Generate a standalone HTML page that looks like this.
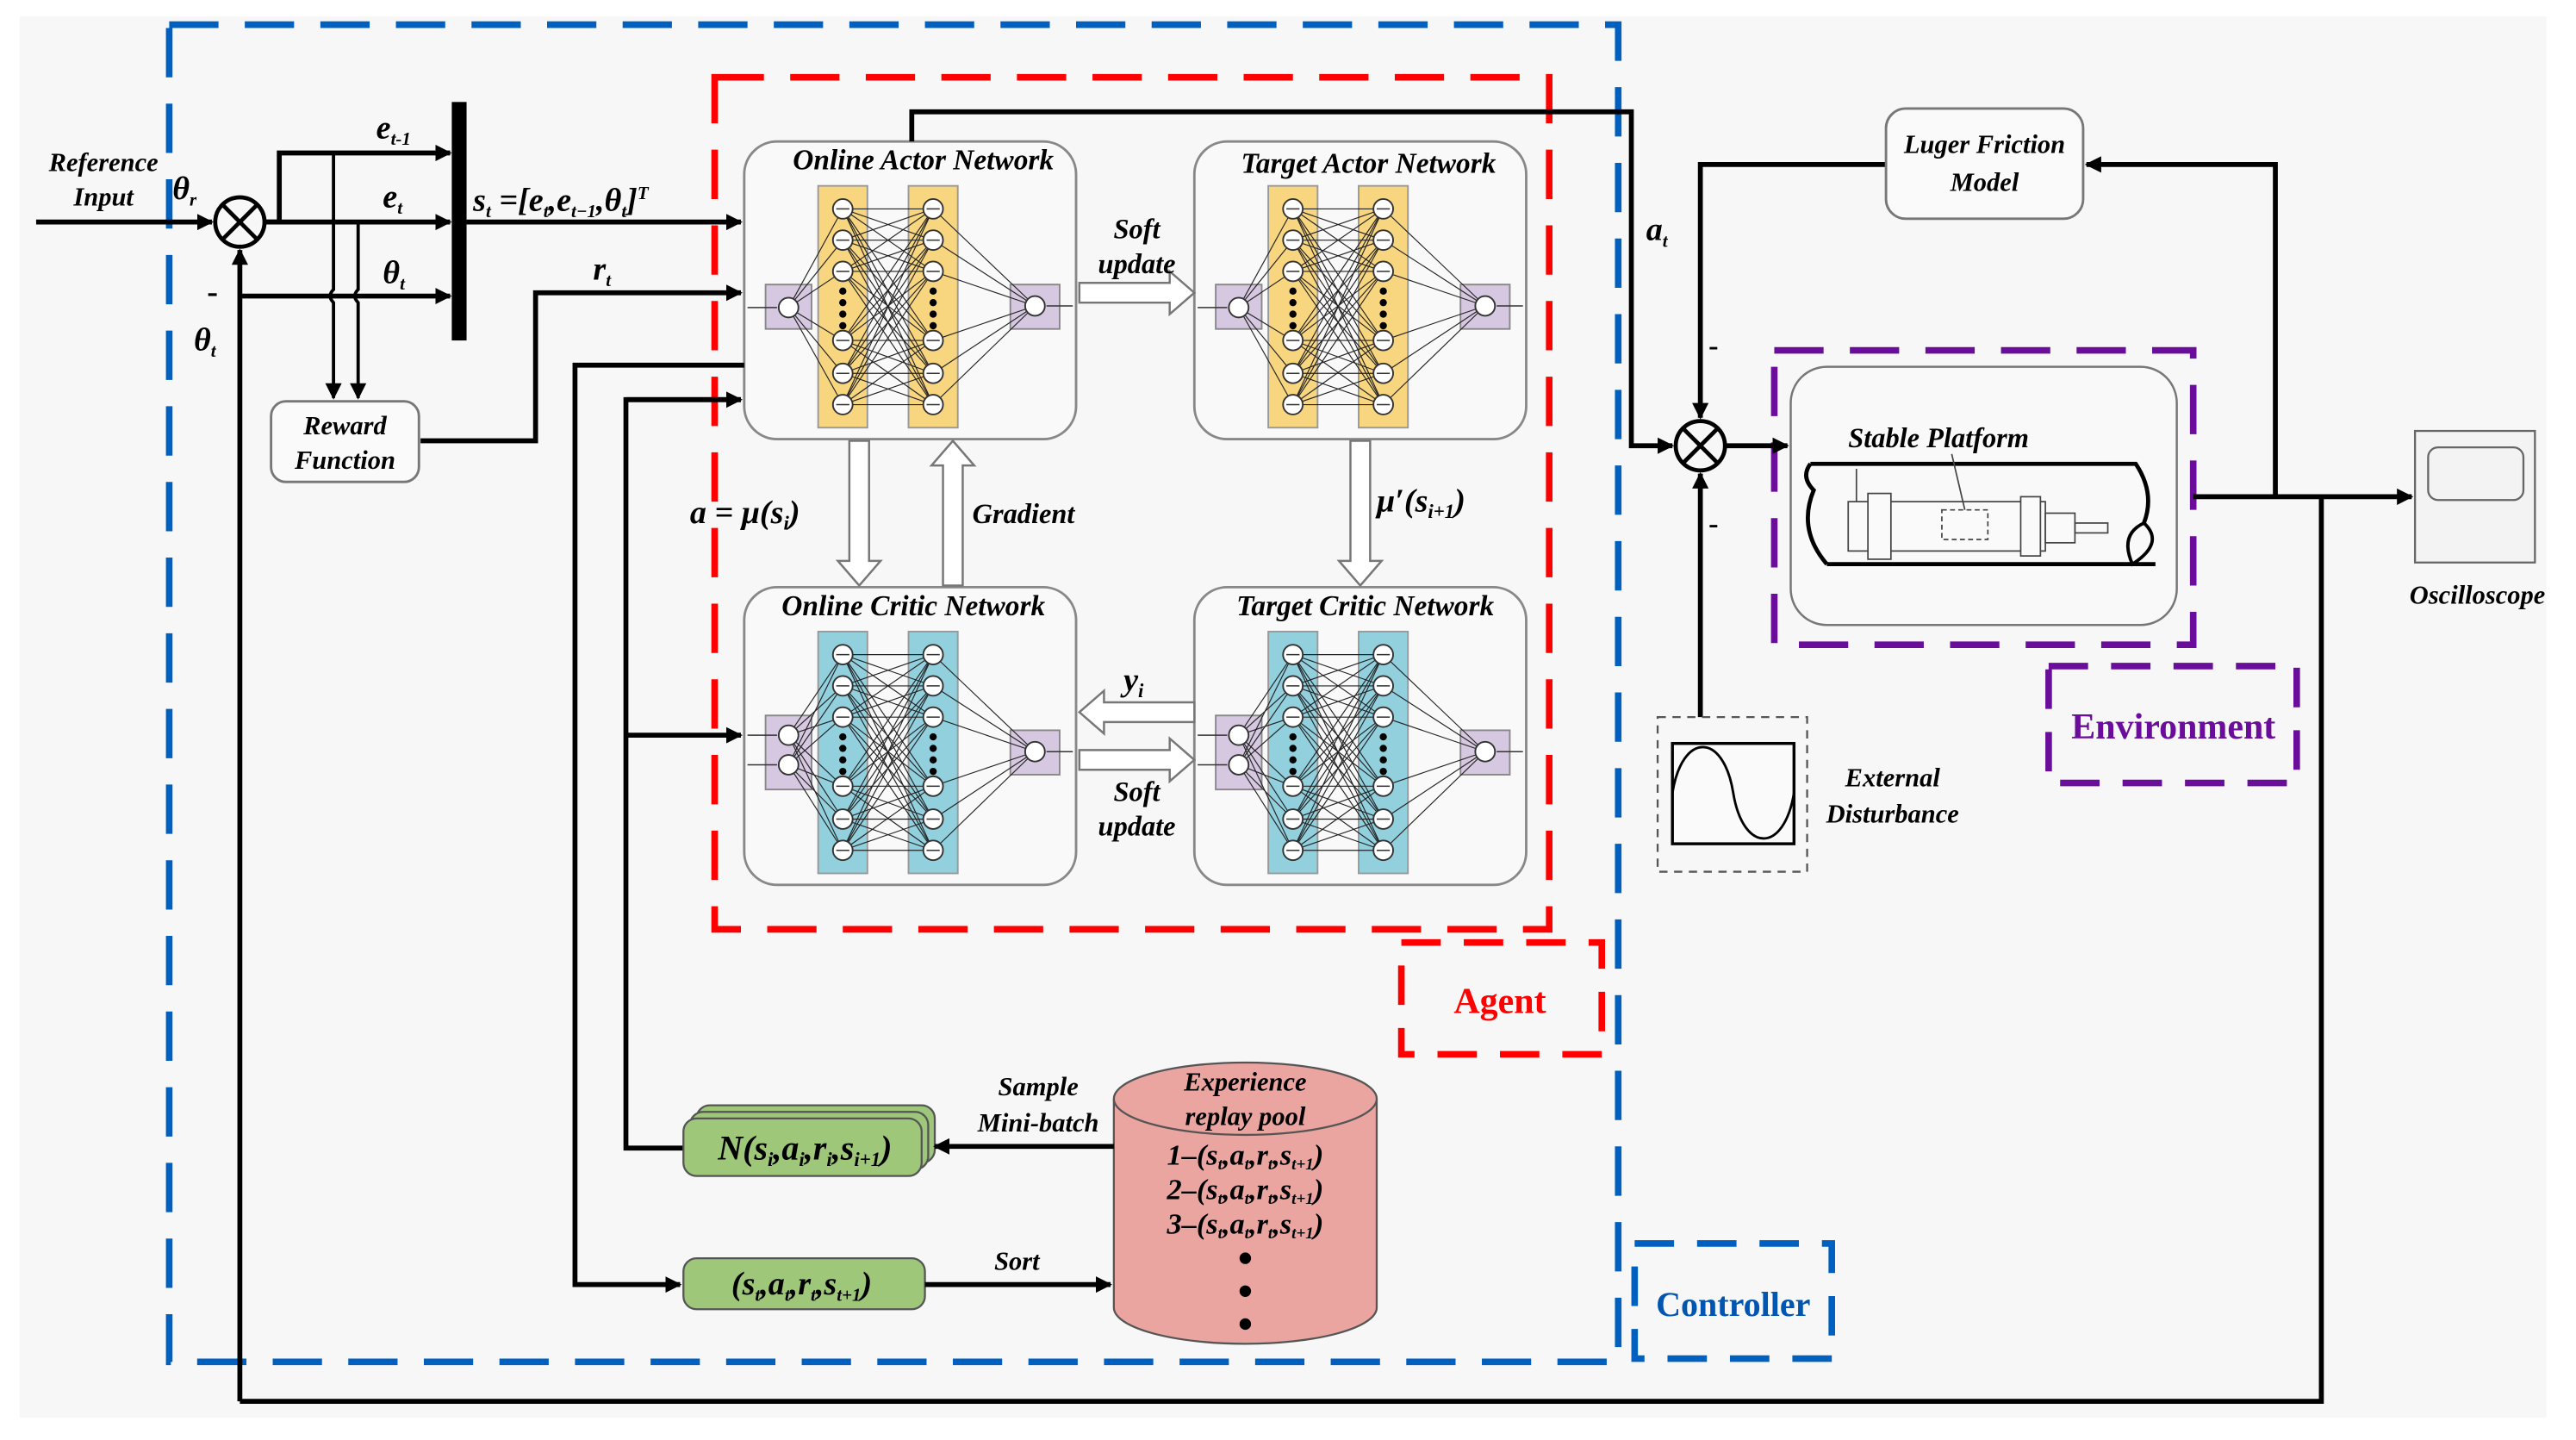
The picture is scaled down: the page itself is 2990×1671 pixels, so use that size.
<!DOCTYPE html>
<html><head><meta charset="utf-8"><style>
html,body{margin:0;padding:0;background:#fff}
svg{display:block}
text{font-family:"Liberation Serif",serif;font-weight:bold;font-style:italic;fill:#000}
.u{font-style:normal}
</style></head><body>
<svg id="s" width="2990" height="1671" viewBox="0 0 1568 875.5" preserveAspectRatio="none" xmlns="http://www.w3.org/2000/svg">
<defs>
<marker id="ar" markerWidth="10" markerHeight="10" refX="9" refY="5" orient="auto" markerUnits="userSpaceOnUse"><path d="M0,0 L10,5 L0,10 z" fill="#000"/></marker>
</defs>
<rect x="0" y="0" width="1570" height="880" fill="#fff"/>
<rect x="12" y="10" width="1538" height="852" fill="#f7f7f7"/>

<!-- dashed group boxes -->
<g fill="none" stroke-width="4" stroke-dasharray="30,16">
<rect x="103" y="15" width="882" height="813" stroke="#0060c0"/>
<rect x="435" y="47" width="508" height="518" stroke="#ff0000"/>
<rect x="853" y="573" width="122" height="68" stroke="#ff0000" stroke-dasharray="24,14"/>
<rect x="995" y="756" width="120" height="70" stroke="#0060c0" stroke-dasharray="24,14"/>
<rect x="1080" y="213" width="255" height="179" stroke="#6a0d9a"/>
<rect x="1247" y="405" width="151" height="71" stroke="#6a0d9a" stroke-dasharray="24,14"/>
</g>
<text x="913" y="616" text-anchor="middle" class="u" style="font-size:22px;fill:#ff0000;font-style:normal">Agent</text>
<text x="1055" y="800" text-anchor="middle" style="font-size:21px;fill:#0055b0;font-style:normal">Controller</text>
<text x="1323" y="449" text-anchor="middle" style="font-size:22px;fill:#6a0d9a;font-style:normal">Environment</text>

<!-- network boxes -->
<g fill="#f9f9f9" stroke="#888" stroke-width="1.5">
<rect x="453" y="86" width="202" height="181" rx="20"/>
<rect x="727" y="86" width="202" height="181" rx="20"/>
<rect x="453" y="357" width="202" height="181" rx="20"/>
<rect x="727" y="357" width="202" height="181" rx="20"/>
</g>
<g style="font-size:17.5px" text-anchor="middle">
<text x="562" y="103">Online Actor Network</text>
<text x="833" y="105">Target  Actor Network</text>
<text x="556" y="374">Online Critic Network</text>
<text x="831" y="374">Target Critic Network</text>
</g>
<g id="nets"></g>

<!-- hollow arrows -->
<g fill="#fff" stroke="#777" stroke-width="1.3">
<path d="M657,172 L712,172 L712,165 L727,178 L712,191 L712,184 L657,184 z"/>
<path d="M727,427 L672,427 L672,420 L657,433 L672,446 L672,439 L727,439 z"/>
<path d="M657,456 L712,456 L712,449 L727,462 L712,475 L712,468 L657,468 z"/>
<path d="M517,268 L517,341 L510,341 L523,356 L536,341 L529,341 L529,268 z"/>
<path d="M574,356 L574,283 L567,283 L580,268 L593,283 L586,283 L586,356 z"/>
<path d="M822,268 L822,341 L815,341 L828,356 L841,341 L834,341 L834,268 z"/>
</g>
<g style="font-size:17px" text-anchor="middle">
<text x="692" y="145">Soft</text><text x="692" y="166">update</text>
<text x="692" y="487">Soft</text><text x="692" y="508">update</text>
<text x="690" y="420" style="font-size:20px">y<tspan dy="4" style="font-size:12px">i</tspan></text>
<text x="623" y="318">Gradient</text>
</g>
<text x="420" y="318" style="font-size:20px">a = μ(s<tspan dy="4" style="font-size:12px">i</tspan><tspan dy="-4">)</tspan></text>
<text x="838" y="311" style="font-size:20px">μ′(s<tspan dy="4" style="font-size:12px">i+1</tspan><tspan dy="-4">)</tspan></text>

<!-- left side -->
<g fill="none" stroke="#000" stroke-width="3">
<line x1="22" y1="135" x2="129" y2="135" marker-end="url(#ar)"/>
<circle cx="146" cy="135" r="15" stroke-width="2.5"/>
<line x1="136" y1="125" x2="156" y2="145" stroke-width="2.5"/>
<line x1="156" y1="125" x2="136" y2="145" stroke-width="2.5"/>
<polyline points="161,135 170,135 170,93 274,93" marker-end="url(#ar)"/>
<line x1="161" y1="135" x2="274" y2="135" marker-end="url(#ar)"/>
<line x1="146" y1="180" x2="274" y2="180" marker-end="url(#ar)"/>
<line x1="284" y1="135" x2="451" y2="135" marker-end="url(#ar)"/>
<polyline points="256,268 326,268 326,178 451,178" marker-end="url(#ar)"/>
<polyline points="453,222 350,222 350,781 414,781" marker-end="url(#ar)"/>
<polyline points="451,243 381,243 381,698 416,698"/>
<line x1="381" y1="243" x2="451" y2="243" marker-end="url(#ar)"/>
<line x1="381" y1="447" x2="451" y2="447" marker-end="url(#ar)"/>
<path d="M203,93 L203,176 Q199,180 203,184 L203,242" stroke-width="2" marker-end="url(#ar)"/>
<path d="M218,135 L218,176 Q214,180 218,184 L218,242" stroke-width="2" marker-end="url(#ar)"/>
<polyline points="146,852 1413,852 1413,302"/>
<line x1="146" y1="852" x2="146" y2="152" marker-end="url(#ar)"/>
<polyline points="555,86 555,68 993,68 993,271 1018,271" marker-end="url(#ar)"/>
</g>
<rect x="275" y="62" width="9" height="145" fill="#000"/>
<rect x="165" y="244" width="90" height="49" rx="9" fill="#fafafa" stroke="#777" stroke-width="1.5"/>
<g style="font-size:16px" text-anchor="middle">
<text x="210" y="264">Reward</text><text x="210" y="285">Function</text>
<text x="63" y="104">Reference</text><text x="63" y="125">Input</text>
</g>
<g style="font-size:20px">
<text x="105" y="121">θ<tspan dy="4" style="font-size:11px">r</tspan></text>
<text x="126" y="184" class="u">-</text>
<text x="118" y="213">θ<tspan dy="4" style="font-size:11px">t</tspan></text>
<text x="229" y="84">e<tspan dy="4" style="font-size:11px">t-1</tspan></text>
<text x="233" y="126">e<tspan dy="4" style="font-size:11px">t</tspan></text>
<text x="233" y="172">θ<tspan dy="4" style="font-size:11px">t</tspan></text>
<text x="361" y="170">r<tspan dy="4" style="font-size:11px">t</tspan></text>
<text x="288" y="128">s<tspan dy="4" style="font-size:11px">t</tspan><tspan dy="-4"> =[e</tspan><tspan dy="4" style="font-size:11px">t</tspan><tspan dy="-4">,e</tspan><tspan dy="4" style="font-size:11px">t−1</tspan><tspan dy="-4">,θ</tspan><tspan dy="4" style="font-size:11px">t</tspan><tspan dy="-4">]</tspan><tspan dy="-7" style="font-size:11px">T</tspan></text>
</g>

<!-- replay -->
<g stroke="#555" stroke-width="1.2">
<path d="M678,668 L678,795 A80,22 0 0 0 838,795 L838,668" fill="#eba5a0"/>
<ellipse cx="758" cy="668" rx="80" ry="22" fill="#eba5a0"/>
<rect x="424" y="672" width="145" height="35" rx="8" fill="#9ec77a"/>
<rect x="420" y="676" width="145" height="35" rx="8" fill="#9ec77a"/>
<rect x="416" y="680" width="145" height="35" rx="8" fill="#9ec77a"/>
<rect x="416" y="765" width="147" height="31" rx="8" fill="#9ec77a"/>
</g>
<g fill="none" stroke="#000" stroke-width="3">
<line x1="678" y1="697" x2="569" y2="697" marker-end="url(#ar)"/>
<line x1="563" y1="781" x2="676" y2="781" marker-end="url(#ar)"/>
</g>
<g style="font-size:16px" text-anchor="middle">
<text x="758" y="663">Experience</text><text x="758" y="684">replay pool</text>
<text x="632" y="666">Sample</text><text x="632" y="688">Mini-batch</text>
<text x="619" y="772">Sort</text>
</g>
<g style="font-size:18px" text-anchor="middle">
<text x="758" y="708">1–(s<tspan dy="3" style="font-size:10px">t</tspan><tspan dy="-3">,a</tspan><tspan dy="3" style="font-size:10px">t</tspan><tspan dy="-3">,r</tspan><tspan dy="3" style="font-size:10px">t</tspan><tspan dy="-3">,s</tspan><tspan dy="3" style="font-size:10px">t+1</tspan><tspan dy="-3">)</tspan></text>
<text x="758" y="729">2–(s<tspan dy="3" style="font-size:10px">t</tspan><tspan dy="-3">,a</tspan><tspan dy="3" style="font-size:10px">t</tspan><tspan dy="-3">,r</tspan><tspan dy="3" style="font-size:10px">t</tspan><tspan dy="-3">,s</tspan><tspan dy="3" style="font-size:10px">t+1</tspan><tspan dy="-3">)</tspan></text>
<text x="758" y="750">3–(s<tspan dy="3" style="font-size:10px">t</tspan><tspan dy="-3">,a</tspan><tspan dy="3" style="font-size:10px">t</tspan><tspan dy="-3">,r</tspan><tspan dy="3" style="font-size:10px">t</tspan><tspan dy="-3">,s</tspan><tspan dy="3" style="font-size:10px">t+1</tspan><tspan dy="-3">)</tspan></text>
<text x="490" y="705" style="font-size:21px">N(s<tspan dy="4" style="font-size:12px">i</tspan><tspan dy="-4">,a</tspan><tspan dy="4" style="font-size:12px">i</tspan><tspan dy="-4">,r</tspan><tspan dy="4" style="font-size:12px">i</tspan><tspan dy="-4">,s</tspan><tspan dy="4" style="font-size:12px">i+1</tspan><tspan dy="-4">)</tspan></text>
<text x="488" y="787" style="font-size:20px">(s<tspan dy="4" style="font-size:11px">t</tspan><tspan dy="-4">,a</tspan><tspan dy="4" style="font-size:11px">t</tspan><tspan dy="-4">,r</tspan><tspan dy="4" style="font-size:11px">t</tspan><tspan dy="-4">,s</tspan><tspan dy="4" style="font-size:11px">t+1</tspan><tspan dy="-4">)</tspan></text>
</g>
<circle cx="758" cy="765" r="3.5"/><circle cx="758" cy="785" r="3.5"/><circle cx="758" cy="805" r="3.5"/>

<!-- right side -->
<g fill="none" stroke="#000" stroke-width="3">
<circle cx="1035" cy="271" r="15" stroke-width="2.5"/>
<line x1="1025" y1="261" x2="1045" y2="281" stroke-width="2.5"/>
<line x1="1045" y1="261" x2="1025" y2="281" stroke-width="2.5"/>
<polyline points="1148,100 1035,100 1035,254" marker-end="url(#ar)"/>
<line x1="1035" y1="436" x2="1035" y2="288" marker-end="url(#ar)"/>
<line x1="1050" y1="271" x2="1088" y2="271" marker-end="url(#ar)"/>
<line x1="1335" y1="302" x2="1468" y2="302" marker-end="url(#ar)"/>
<polyline points="1385,302 1385,100 1270,100" marker-end="url(#ar)"/>
</g>
<rect x="1148" y="66" width="120" height="67" rx="12" fill="#fafafa" stroke="#777" stroke-width="1.5"/>
<rect x="1090" y="223" width="235" height="157" rx="22" fill="#f9f9f9" stroke="#777" stroke-width="1.3"/>
<g style="font-size:16px" text-anchor="middle">
<text x="1208" y="93">Luger Friction</text><text x="1208" y="116">Model</text>
<text x="1180" y="272" style="font-size:17px">Stable Platform</text>
<text x="1508" y="367">Oscilloscope</text>
<text x="1152" y="478">External</text><text x="1152" y="500">Disturbance</text>
</g>
<text x="1002" y="146" style="font-size:20px">a<tspan dy="4" style="font-size:11px">t</tspan></text>
<text x="1040" y="216" class="u" style="font-size:18px">-</text>
<text x="1040" y="324" class="u" style="font-size:18px">-</text>
<!-- platform drawing -->
<g fill="none" stroke="#000">
<path d="M1102,282 L1300,282 Q1312,300 1305,318 M1112,343 L1312,343" stroke-width="2.5"/>
<path d="M1102,282 Q1096,290 1104,298 Q1094,322 1112,343" stroke-width="2.5"/>
<path d="M1305,318 Q1290,325 1298,343 Q1318,330 1305,318" stroke-width="2"/>
<g stroke="#444" stroke-width="0.9">
<rect x="1125" y="305" width="120" height="30" fill="#fafafa"/>
<rect x="1137" y="300" width="14" height="40" fill="#fafafa"/>
<rect x="1230" y="302" width="12" height="36" fill="#fafafa"/>
<rect x="1182" y="310" width="28" height="18" stroke-dasharray="3,2"/>
<rect x="1245" y="312" width="18" height="18" fill="#fafafa"/>
<rect x="1263" y="318" width="20" height="6"/>
<line x1="1130" y1="285" x2="1130" y2="305"/>
<line x1="1188" y1="276" x2="1196" y2="310"/>
</g>
</g>
<rect x="1470" y="262" width="73" height="80" fill="#f3f3f3" stroke="#666" stroke-width="1.2"/>
<rect x="1478" y="272" width="58" height="32" rx="6" fill="#f3f3f3" stroke="#666" stroke-width="1.2"/>
<rect x="1009" y="436" width="91" height="94" fill="none" stroke="#555" stroke-width="1.2" stroke-dasharray="5,4"/>
<rect x="1018" y="452" width="74" height="61" fill="#fafafa" stroke="#000" stroke-width="1.8"/>
<path d="M1018,482 C1024,445 1049,445 1055,482 C1061,519 1086,519 1092,482" fill="none" stroke="#000" stroke-width="1.5"/>
</svg>
<script>
(function(){
var NS="http://www.w3.org/2000/svg",g=document.getElementById("nets");
function el(t,a){var e=document.createElementNS(NS,t);for(var k in a)e.setAttribute(k,a[k]);g.appendChild(e);return e;}
function net(ox,oy,critic){
 var col=critic?"#92d0de":"#f8d680", top=oy+27, h=147;
 var c1=ox+60,c2=ox+115;
 var ny=[14,33,52,94,114,133].map(function(v){return top+v;});
 var inY=critic?[oy+90,oy+108]:[oy+101], outY=oy+100;
 el("rect",{x:ox+13,y:critic?oy+78:oy+87,width:28,height:critic?45:27,fill:"#d6c8e0",stroke:"#888","stroke-width":1});
 el("rect",{x:ox+162,y:oy+87,width:30,height:27,fill:"#d6c8e0",stroke:"#888","stroke-width":1});
 el("rect",{x:c1-15,y:top,width:30,height:h,fill:col,stroke:"#999","stroke-width":1});
 el("rect",{x:c2-15,y:top,width:30,height:h,fill:col,stroke:"#999","stroke-width":1});
 inY.forEach(function(y){ny.forEach(function(n){el("line",{x1:ox+27,y1:y,x2:c1,y2:n,stroke:"#222","stroke-width":0.6});});});
 ny.forEach(function(a){ny.forEach(function(b){el("line",{x1:c1,y1:a,x2:c2,y2:b,stroke:"#222","stroke-width":0.6});});});
 ny.forEach(function(n){el("line",{x1:c2,y1:n,x2:ox+177,y2:outY,stroke:"#222","stroke-width":0.6});});
 [c1,c2].forEach(function(cx){
  ny.forEach(function(n){el("circle",{cx:cx,cy:n,r:6,fill:"#fff",stroke:"#333","stroke-width":1});
   el("line",{x1:cx-4,y1:n,x2:cx+4,y2:n,stroke:"#333","stroke-width":0.8});});
  [64,71,78,85].forEach(function(d){el("circle",{cx:cx,cy:top+d,r:2.2,fill:"#000"});});
 });
 inY.forEach(function(y,i){el("line",{x1:ox+2,y1:y,x2:ox+20,y2:y,stroke:"#333","stroke-width":0.8});
  el("circle",{cx:ox+27,cy:y,r:6,fill:"#fff",stroke:"#333","stroke-width":1});});
 el("circle",{cx:ox+177,cy:outY,r:6,fill:"#fff",stroke:"#333","stroke-width":1});
 el("line",{x1:ox+184,y1:outY,x2:ox+200,y2:outY,stroke:"#333","stroke-width":0.8});
}
net(453,86,false);net(727,86,false);net(453,357,true);net(727,357,true);
})();
</script>
</body></html>
